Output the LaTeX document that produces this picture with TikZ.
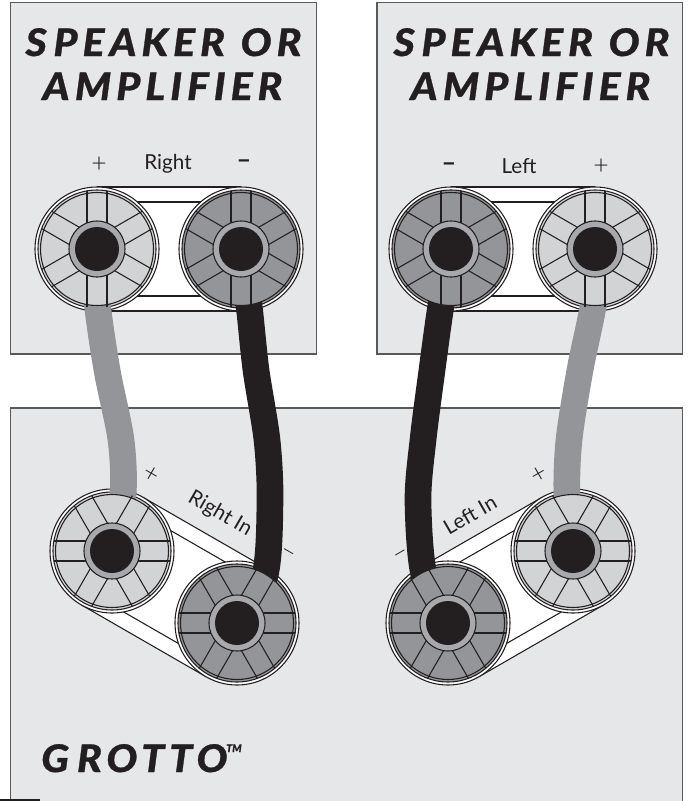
\documentclass[tikz,border=0pt]{standalone}
\usepackage{fontspec}
\setmainfont{Lato}
\usetikzlibrary{calc}
\definecolor{panel}{HTML}{E6E7E8}
\definecolor{ink}{HTML}{231F20}
\definecolor{edge}{HTML}{58595B}
\definecolor{lightcap}{HTML}{D1D3D4}
\definecolor{darkcap}{HTML}{939598}
\definecolor{collar}{HTML}{A7A9AC}
\newfontfamily\titlefont[LetterSpace=13,FakeStretch=1.08,FakeBold=0.8]{Lato Black Italic}
\newfontfamily\tmfont[FakeBold=0.5]{Lato Black Italic}
\newfontfamily\lightfont{Lato Light}
\tikzset{
  box/.style={draw=edge,line width=1.1pt,fill=panel},
  thin line/.style={draw=ink,line width=.8pt},
  strap/.style={fill=white},
  wiregray/.style={draw=darkcap,line width=20pt},
  wireblack/.style={draw=ink,line width=20pt},
  title/.style={font=\titlefont\fontsize{28.5}{30}\selectfont,text=ink,anchor=base,inner sep=0pt},
  label/.style={font=\fontsize{15.5}{17}\selectfont,text=ink,inner sep=0pt},
  sign/.style={font=\lightfont\fontsize{20}{22}\selectfont,text=ink,inner sep=0pt},
  minus/.style={font=\bfseries\fontsize{19}{22}\selectfont,text=ink,inner sep=0pt}
}
% outer rings
\newcommand{\termrings}[2]{%
  \fill[white,thin line] (#1) circle[radius=62];
  \fill[#2,thin line] (#1) circle[radius=59];
}
% cap with spokes, hub
\newcommand{\termcap}[3]{%
  \fill[#2,thin line] (#1) circle[radius=56.5];
  \foreach \a in {0,60,120} {
    \begin{scope}[shift={(#1)},rotate=\a+#3]
      \draw[thin line] (26.2,10) -- (58.1,10);
      \draw[thin line] (26.2,-10) -- (58.1,-10);
      \draw[thin line] (-26.2,10) -- (-58.1,10);
      \draw[thin line] (-26.2,-10) -- (-58.1,-10);
    \end{scope}
  }
  \fill[collar,thin line] (#1) circle[radius=28];
  \fill[ink] (#1) circle[radius=22];
}
\newcommand{\strapband}[2]{%
  \fill[strap] ($(#1)!46.5pt!90:(#2)$) -- ($(#2)!46.5pt!-90:(#1)$) -- ($(#2)!46.5pt!90:(#1)$) -- ($(#1)!46.5pt!-90:(#2)$) -- cycle;
  \draw[thin line] ($(#1)!46.5pt!90:(#2)$) -- ($(#2)!46.5pt!-90:(#1)$);
  \draw[thin line] ($(#1)!46.5pt!-90:(#2)$) -- ($(#2)!46.5pt!90:(#1)$);
  \draw[thin line] ($(#1)!35.25pt!90:(#2)$) -- ($(#2)!35.25pt!-90:(#1)$);
  \draw[thin line] ($(#1)!35.25pt!-90:(#2)$) -- ($(#2)!35.25pt!90:(#1)$);
}
\begin{document}
\begin{tikzpicture}[x=.75pt,y=-.75pt]
\useasboundingbox (0,0) rectangle (689,801);
% panels
\draw[box] (10.5,2.5) rectangle (316.5,354);
\draw[box] (377,2.5) rectangle (682.6,354);
\fill[panel] (10.5,408) rectangle (682.6,801);
\draw[draw=edge,line width=1.1pt] (10.5,801) -- (10.5,408) -- (682.6,408) -- (682.6,801);
\draw[draw=ink,line width=1.1pt] (0,800) -- (40,800);
% terminal centres
\coordinate (ampRp) at (97,249);
\coordinate (ampRm) at (241,249);
\coordinate (ampLm) at (451,249);
\coordinate (ampLp) at (595,249);
\coordinate (gRp) at (112,551);
\coordinate (gRm) at (237,623);
\coordinate (gLp) at (573,551);
\coordinate (gLm) at (448,623);
% straps
\strapband{ampRp}{ampRm}
\strapband{ampLm}{ampLp}
\strapband{gRp}{gRm}
\strapband{gLm}{gLp}
% rings
\termrings{ampRp}{lightcap}
\termrings{ampRm}{darkcap}
\termrings{ampLm}{darkcap}
\termrings{ampLp}{lightcap}
\termrings{gRp}{lightcap}
\termrings{gRm}{darkcap}
\termrings{gLp}{lightcap}
\termrings{gLm}{darkcap}
% wires
\draw[wiregray] plot[smooth] coordinates {(ampRp) (97,300) (107,370) (121,440) (123,495) (gRp)};
\draw[wireblack] plot[smooth] coordinates {(ampRm) (249,305) (256,370) (267,440) (270,500) (265,575) (gRm)};
\draw[wireblack] plot[smooth] coordinates {(ampLm) (441,305) (432,370) (423,440) (418,500) (424,575) (gLm)};
\draw[wiregray] plot[smooth] coordinates {(ampLp) (594,300) (580,370) (569,440) (567,495) (gLp)};
% caps
\termcap{ampRp}{lightcap}{90}
\termcap{ampRm}{darkcap}{90}
\termcap{ampLm}{darkcap}{90}
\termcap{ampLp}{lightcap}{90}
\termcap{gRp}{lightcap}{0}
\termcap{gRm}{darkcap}{0}
\termcap{gLp}{lightcap}{0}
\termcap{gLm}{darkcap}{0}
% titles
\node[title] (t1) at (163.5,56) {S\kern5pt PEAKER\kern1.5pt\ OR};
\node[title] (t2) at (162.5,100) {A\kern4pt MPLIFIER};
\node[title] (t3) at (531.5,56) {S\kern5pt PEAKER\kern1.5pt\ OR};
\node[title] (t4) at (530.5,100) {A\kern4pt MPLIFIER};
\node[title,anchor=base west] (t5) at (41,772) {G\kern6pt ROTTO\kern-1pt\raisebox{15pt}{\tmfont\fontsize{8}{8}\selectfont TM}};
% labels
\node[label] (lr) at (168,164) {Right};
\node[sign] (lrp) at (99,165) {+};
\node[minus] (lrm) at (244,164) {–};
\node[label] (ll) at (519,166) {Left};
\node[minus] (llm) at (449,167) {–};
\node[sign] (llp) at (601,167) {+};
\node[label,rotate=-30] (gr) at (220,514) {Right In};
\node[label,rotate=30] (gl) at (470,515) {Left In};
\node[sign,rotate=-30] (grp) at (151,475) {+};
\node[sign,rotate=30] (glp) at (539,475) {+};
\node[sign,rotate=-30] (grm) at (287,555) {–};
\node[sign,rotate=30] (glm) at (402,556) {–};
\end{tikzpicture}
\end{document}
